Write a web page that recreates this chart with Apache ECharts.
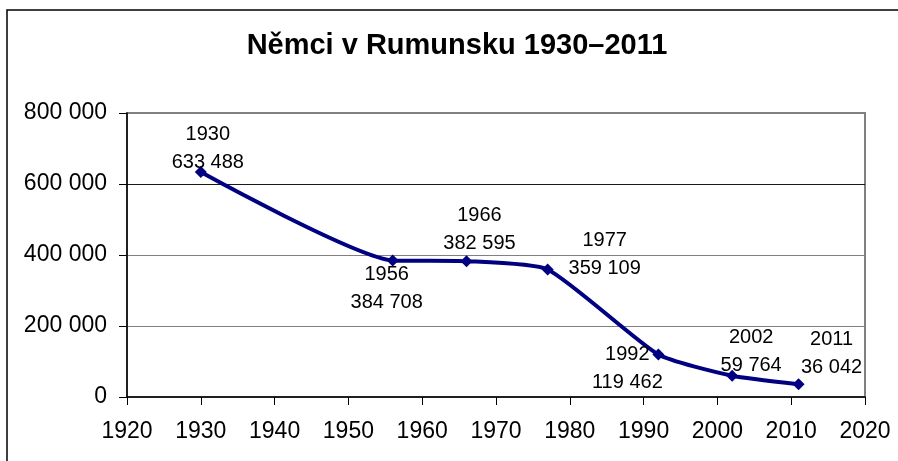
<!DOCTYPE html>
<html>
<head>
<meta charset="utf-8">
<script src="https://cdn.jsdelivr.net/npm/echarts@6/dist/echarts.min.js"></script>
<style>
  html, body { margin: 0; padding: 0; background: #fff; }
  #main { width: 898px; height: 461px; }
</style>
</head>
<body>
<div id="main"></div>
<script>
var years = [1930, 1956, 1966, 1977, 1992, 2002, 2011];
var germans = [633488, 384708, 382595, 359109, 119462, 59764, 36042];
var yTicks = [0, 200000, 400000, 600000, 800000];
var xTicks = [1920, 1930, 1940, 1950, 1960, 1970, 1980, 1990, 2000, 2010, 2020];
// where each label sits relative to its marker (px)
var labelOffsets = [[7, -24], [-6, 28], [13, -32], [57, -15], [-31, 14], [19, -24], [33, -31]];

function fmt(n) {
	return String(n).replace(/\B(?=(\d{3})+(?!\d))/g, ' ');
}

var font = 'Liberation Sans, Arial, sans-serif';
var points = years.map(function (y, i) {
	return {
		value: [y, germans[i]],
		label: { offset: labelOffsets[i] }
	};
});

var myChart = echarts.init(document.getElementById('main'));
var option = {
	animation: false,
	title: {
		text: 'Němci v Rumunsku 1930–2011',
		left: 452,
		textAlign: 'center',
		top: 26,
		textStyle: { fontFamily: font, fontSize: 29, fontWeight: 'bold', color: '#000' }
	},
	graphic: [{
		type: 'rect',
		silent: true,
		shape: { x: 7, y: 10, width: 930, height: 490 },
		style: { fill: 'none', stroke: '#000', lineWidth: 1.5 }
	}],
	grid: {
		left: 127,
		right: 33,
		top: 113,
		bottom: 64,
		show: true,
		borderColor: '#808080',
		borderWidth: 2
	},
	xAxis: {
		type: 'value',
		min: xTicks[0],
		max: xTicks[xTicks.length - 1],
		interval: 10,
		axisLine: { lineStyle: { color: '#000', width: 1.5 } },
		axisTick: { length: 8, lineStyle: { color: '#000' } },
		axisLabel: {
			fontFamily: font, fontSize: 23, color: '#000', margin: 23,
			formatter: function (v) { return String(v); }
		},
		splitLine: { show: false }
	},
	yAxis: {
		type: 'value',
		min: yTicks[0],
		max: yTicks[yTicks.length - 1],
		interval: 200000,
		axisLine: { show: true, lineStyle: { color: '#000', width: 1.5 } },
		axisTick: { show: true, length: 8, lineStyle: { color: '#000' } },
		axisLabel: { fontFamily: font, fontSize: 23, color: '#000', margin: 20, formatter: fmt },
		splitLine: { lineStyle: { color: ['#808080', '#808080', '#808080', '#1a1a1a', '#808080'], width: 1.2 } }
	},
	series: [{
		type: 'line',
		data: points,
		smooth: 0.18,
		symbol: 'diamond',
		symbolSize: 12,
		itemStyle: { color: '#000080' },
		lineStyle: { color: '#000080', width: 4 },
		label: {
			show: true,
			position: 'inside',
			align: 'center',
			verticalAlign: 'middle',
			fontFamily: font,
			fontSize: 20,
			lineHeight: 28,
			color: '#000',
			formatter: function (p) {
				return p.value[0] + '\n' + fmt(p.value[1]);
			}
		}
	}]
};
myChart.setOption(option);
</script>
</body>
</html>
